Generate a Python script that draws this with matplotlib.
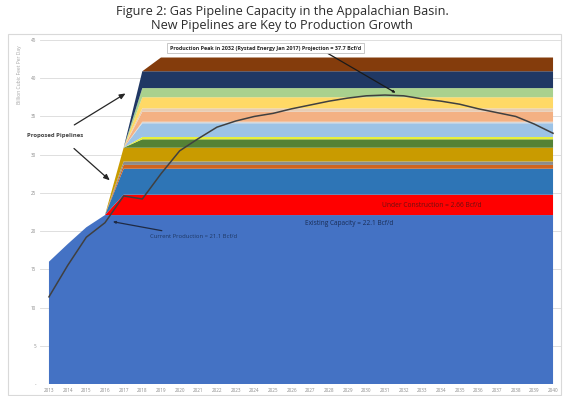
import numpy as np
import matplotlib
matplotlib.use("Agg")
import matplotlib.pyplot as plt
from matplotlib.patches import Rectangle

plt.rcParams['font.family'] = ['Open Sans', 'DejaVu Sans']

years = list(range(2013, 2041))

# Existing pipeline capacity (Bcf/d)
existing = [16.0, 18.3, 20.5] + [22.1] * 25

# Additional capacity by project group: thickness (Bcf/d) and first full-service year
layer_names = ["Under Construction", "Project A", "Project B", "Project C", "Project D",
               "Project E", "Project F", "Project G", "Project H", "Project I",
               "Project J", "Project K", "Project L", "Project M", "Project N"]
layer_caps = [2.66, 3.4, 0.5, 0.45, 1.8, 1.1, 0.3, 1.8, 0.2, 1.3, 0.45, 1.45, 1.2, 2.2, 1.8]
layer_start = [2017, 2017, 2017, 2017, 2017, 2018, 2018, 2018, 2018, 2018, 2018, 2018, 2018, 2018, 2019]
layer_colors = ["#FF0000", "#2E75B6", "#D0641E", "#8C8C8C", "#C99B00", "#548235", "#E8F03A",
                "#9DC3E6", "#D9D9D9", "#F4B183", "#E7CDB4", "#FFD966", "#A9D18E", "#203864",
                "#843C0C"]

# Production projection (Bcf/d)
production = [11.4, 15.5, 19.2, 21.1, 24.6, 24.2, 27.5, 30.5, 32.1, 33.6, 34.4, 35.0, 35.4,
              36.0, 36.5, 37.0, 37.4, 37.7, 37.8, 37.7, 37.3, 37.0, 36.6, 36.0, 35.5, 35.0,
              34.0, 32.8]

yr = np.array(years)
layers = [np.array(existing)]
for cap, start in zip(layer_caps, layer_start):
    layers.append(np.where(yr >= start, cap, 0.0))

fig = plt.figure(figsize=(5.64, 3.96), dpi=100)
fig.patch.set_facecolor("white")

# light outer frame
fig.patches.append(Rectangle((8 / 564, 0.002), 553 / 564, 1 - 35 / 396, transform=fig.transFigure,
                             fill=False, edgecolor="#D9D9D9", linewidth=0.8))

ax = fig.add_axes([40 / 564, 12 / 396, 522 / 564, 344 / 396])
ax.stackplot(years, *layers, colors=["#4472C4"] + layer_colors, linewidth=0, zorder=2)
ax.plot(years, production, color="#404040", linewidth=1.1, zorder=3)

ax.set_xlim(2012.52, 2040.48)
ax.set_ylim(0, 45)
ax.set_xticks(years)
ax.set_xticklabels([str(y) for y in years], fontsize=3.3, color="#8C8C8C")
ax.set_yticks(range(0, 46, 5))
ax.set_yticklabels(["-"] + [str(v) for v in range(5, 46, 5)], fontsize=3.3, color="#8C8C8C")
ax.tick_params(length=0, pad=3)
ax.grid(axis="y", color="#D9D9D9", linewidth=0.6, zorder=0)
ax.set_axisbelow(True)
for s in ax.spines.values():
    s.set_visible(False)
ax.set_ylabel("Billion Cubic Feet Per Day", fontsize=3.6, color="#A6A6A6", labelpad=6)
ax.yaxis.set_label_coords(-0.034, 0.9)

fig.text(0.5, 1 - 12 / 396, "Figure 2: Gas Pipeline Capacity in the Appalachian Basin.",
         ha="center", va="center", fontsize=9.1, color="#2B2B2B")
fig.text(0.5, 1 - 26 / 396, "New Pipelines are Key to Production Growth",
         ha="center", va="center", fontsize=9.1, color="#2B2B2B")

# annotations
ax.text(2011.82, 32.5, "Proposed Pipelines", fontsize=4.3, color="#404040",
        ha="left", va="center", fontweight="bold")
arrow = dict(arrowstyle="-|>,head_length=0.35,head_width=0.15", color="#262626", lw=0.9)
ax.annotate("", xy=(2017.23, 38.2), xytext=(2014.23, 33.7), arrowprops=arrow)
ax.annotate("", xy=(2016.37, 26.4), xytext=(2014.23, 31.05), arrowprops=arrow)

ax.annotate("Current Production = 21.1 Bcf/d", xy=(2016.27, 21.3), xytext=(2018.4, 19.3),
            fontsize=4.2, color="#1F3864", ha="left", va="center",
            arrowprops=dict(arrowstyle="-|>,head_length=0.35,head_width=0.15",
                            color="#1F2A44", lw=0.9))

ax.text(2033.5, 23.4, "Under Construction = 2.66 Bcf/d", fontsize=4.8, color="#6B1010",
        ha="center", va="center")
ax.text(2029.1, 21.05, "Existing Capacity = 22.1 Bcf/d", fontsize=4.7, color="#1A2D55",
        ha="center", va="center")

ax.annotate("Production Peak in 2032 (Rystad Energy Jan 2017) Projection = 37.7 Bcf/d",
            xy=(2031.7, 37.9), xytext=(2024.6, 43.95), fontsize=3.9, fontweight="bold",
            color="#262626", ha="center", va="center", annotation_clip=False,
            bbox=dict(boxstyle="square,pad=0.5", facecolor="white", edgecolor="#BFBFBF", lw=0.6),
            arrowprops=dict(arrowstyle="-|>,head_length=0.35,head_width=0.15",
                            color="#1a1a1a", lw=0.9, shrinkA=0,
                            relpos=(0.8, 0.0)))

fig.savefig("out.png", dpi=100)
